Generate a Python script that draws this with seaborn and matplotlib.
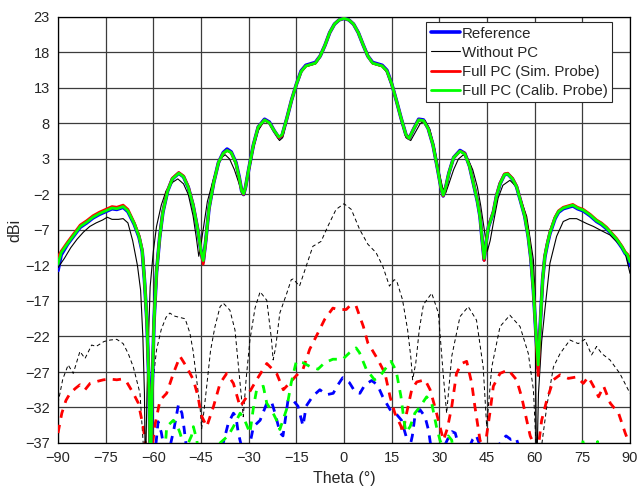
import matplotlib
matplotlib.use("Agg")
import matplotlib.pyplot as plt
import seaborn as sns
import pandas as pd
from matplotlib.lines import Line2D

# ---------------- data ----------------
theta_co = [-90, -89, -87, -85, -83, -81, -79, -77, -75, -73, -71.5, -69.5, -68, -66, -64.5,
            -63.5, -62.8, -62, -61.3, -60.9, -60.4, -59.8, -59, -58, -57, -55.5, -54, -52,
            -50.5, -49, -47.5, -46, -45, -44.3, -43.5, -42.5, -41, -39.5, -38, -36.8, -35.5,
            -34, -33, -32.2, -31.6, -31, -30, -28.5, -27, -25, -23.5, -22, -20.5, -19.5, -18,
            -16.5, -15, -13.5, -12, -10.5, -9, -7.5, -6, -4.5, -3, -1.5, 0,
            1.5, 3, 4.5, 6, 7.5, 9, 10.5, 12, 13.5, 15, 16.5, 18, 19.5, 20.5, 22, 23.5, 25,
            26.5, 28, 29.5, 30.5, 31.2, 32, 33, 34.5, 36.5, 38, 39.5, 40.7, 42, 42.8, 43.5,
            44.1, 44.8, 45.5, 47, 48, 49.1, 50.5, 51.5, 53, 54.3, 55.5, 56.9, 58, 58.8, 59.6,
            60.4, 61.1, 61.8, 62.5, 63.2, 64, 64.8, 66.4, 67.5, 69, 70.5, 72, 73.5, 75.3,
            77.5, 79.5, 81, 82.6, 84, 85.8, 87.5, 88.5, 89.2, 90]
ref_co = [-12.7, -10.5, -9.0, -7.8, -6.6, -6.0, -5.3, -4.8, -4.4, -4.0, -4.1, -3.8, -4.4, -6.2, -8.0,
          -10.0, -14.0, -20.0, -30.0, -42.0, -30.0, -20.0, -13.0, -8.0, -4.5, -1.5, 0.2, 1.0,
          0.5, -1.0, -3.5, -7.0, -10.0, -11.5, -8.5, -4.0, -0.3, 2.5, 3.9, 4.4, 4.0,
          2.5, 0.5, -1.5, -2.0, -1.0, 1.5, 5.0, 7.5, 8.6, 8.2, 7.0, 6.0, 6.3, 8.7,
          11.3, 13.5, 15.4, 16.2, 16.4, 16.6, 17.5, 19.0, 20.8, 22.0, 22.6, 22.8,
          22.6, 22.0, 20.8, 19.1, 17.5, 16.6, 16.4, 16.2, 15.5, 13.6, 11.2, 8.7, 6.4, 5.9, 7.3, 8.6, 8.5,
          7.3, 5.0, 1.5, -1.0, -2.2, -1.0, 1.0, 3.2, 4.2, 3.8, 2.0, -0.4, -3.0, -5.1, -8.5,
          -11.2, -8.5, -6.5, -4.5, -2.2, -0.5, 0.8, 0.9, 0.2, -0.9, -2.8, -5.1, -8.0, -11.0, -15.5,
          -21.6, -26.5, -20.0, -14.0, -10.8, -9.0, -7.5, -5.4, -4.5, -4.0, -3.8, -3.6, -4.0, -4.3,
          -5.0, -5.8, -6.2, -6.8, -7.5, -8.4, -9.5, -10.3, -10.6, -12.0]
sim_co = [-10.8, -10.0, -8.7, -7.5, -6.3, -5.7, -5.0, -4.5, -4.1, -3.7, -3.8, -3.5, -4.1, -6.0, -7.8,
          -9.8, -13.8, -20.0, -30.0, -42.0, -30.0, -20.0, -13.0, -8.0, -4.4, -1.4, 0.3, 1.1,
          0.6, -0.9, -3.4, -6.9, -10.0, -11.8, -8.5, -4.0, -0.3, 2.5, 3.8, 4.2, 3.9,
          2.4, 0.4, -1.5, -2.0, -1.0, 1.5, 5.0, 7.5, 8.5, 8.1, 7.0, 6.0, 6.3, 8.7,
          11.3, 13.5, 15.3, 16.1, 16.3, 16.5, 17.5, 19.0, 20.8, 22.0, 22.6, 22.8,
          22.6, 22.0, 20.8, 19.1, 17.5, 16.5, 16.3, 16.1, 15.4, 13.6, 11.2, 8.7, 6.4, 5.9, 7.3, 8.5, 8.4,
          7.3, 5.0, 1.5, -1.0, -2.2, -1.0, 1.0, 3.2, 4.1, 3.8, 2.0, -0.3, -2.9, -5.0, -8.5,
          -11.3, -8.5, -6.4, -4.4, -2.1, -0.4, 0.9, 1.0, 0.3, -0.8, -2.7, -5.0, -7.9, -11.0, -15.5,
          -21.6, -27.5, -20.0, -14.0, -10.6, -8.8, -7.3, -5.2, -4.3, -3.8, -3.6, -3.4, -3.8, -4.1,
          -4.8, -5.6, -6.0, -6.6, -7.3, -8.2, -9.3, -10.1, -10.4, -11.0]
cal_co = [-11.8, -10.2, -8.9, -7.7, -6.5, -5.9, -5.2, -4.7, -4.3, -3.9, -4.0, -3.7, -4.3, -6.1, -7.9,
          -9.9, -13.9, -20.0, -30.0, -42.0, -30.0, -20.0, -13.0, -8.0, -4.5, -1.5, 0.2, 1.0,
          0.5, -1.0, -3.5, -7.0, -10.0, -11.3, -8.5, -4.0, -0.3, 2.5, 3.8, 4.2, 3.9,
          2.4, 0.4, -1.5, -1.9, -1.0, 1.5, 5.0, 7.5, 8.5, 8.1, 7.0, 6.1, 6.4, 8.7,
          11.3, 13.5, 15.3, 16.1, 16.3, 16.5, 17.5, 19.0, 20.8, 22.0, 22.6, 22.8,
          22.6, 22.0, 20.8, 19.1, 17.5, 16.5, 16.3, 16.1, 15.4, 13.6, 11.2, 8.7, 6.4, 5.9, 7.3, 8.5, 8.4,
          7.3, 5.0, 1.5, -1.0, -2.1, -1.0, 1.0, 3.2, 4.1, 3.7, 2.0, -0.4, -3.0, -5.1, -8.5,
          -11.0, -8.5, -6.5, -4.5, -2.2, -0.5, 0.8, 0.9, 0.2, -0.9, -2.8, -5.1, -8.0, -11.0, -15.5,
          -21.6, -26.0, -20.0, -14.0, -10.7, -8.9, -7.4, -5.3, -4.4, -3.9, -3.7, -3.5, -3.9, -4.2,
          -4.9, -5.7, -6.1, -6.7, -7.4, -8.3, -9.4, -10.2, -10.5, -11.5]

theta_wo = [-90, -88, -86, -84, -82, -80, -78, -76, -74.5, -73, -71, -69.5, -68, -66.5, -65, -64,
            -63.3, -62.8, -62.5, -62, -61.5, -61, -60, -59, -57.5, -56, -54, -52.3, -50.5, -49,
            -47.5, -46.5, -45.7, -45, -44, -43, -41.5, -40, -38.5, -37.4, -36, -34.5, -33, -32,
            -31, -30, -28.5, -27, -25, -23.5, -22, -20.3, -19.3, -18, -16.5, -15, -13.5, -12,
            -10.5, -9, -7.5, -6, -4.5, -3, -1.5, 0, 1.5, 3, 4.5, 6, 7.5, 9, 10.5, 12, 13.5, 15,
            16.5, 18, 19.5, 21, 22.5, 24, 25.5, 27, 28.5, 30, 31, 32, 33, 34.5, 36, 37.6, 39,
            40.5, 42, 43, 44, 45.1, 46, 47, 48.5, 50, 52.2, 54, 55.5, 57.5, 58.5, 59.6, 60.1,
            60.6, 61.2, 62.2, 63.2, 64.8, 66.9, 69, 71, 73.2, 76.4, 78.5, 80.6, 83.7, 86.8,
            88.4, 90]
wo_co = [-12.3, -11.0, -9.5, -8.3, -7.3, -6.5, -6.0, -5.6, -5.2, -5.5, -5.5, -5.4, -6.0, -8.5, -12.0, -15.5,
         -22.0, -30.0, -42.0, -30.0, -22.0, -15.0, -10.0, -6.5, -3.5, -1.5, -0.3, 0.2, -0.5, -2.0,
         -5.0, -8.0, -10.7, -9.0, -6.0, -3.0, -0.5, 1.8, 3.2, 3.6, 3.0, 1.5, -0.5, -1.8,
         -1.2, 1.0, 4.5, 7.0, 8.4, 8.0, 6.8, 5.6, 6.0, 8.4, 11.0, 13.3, 15.2, 16.0,
         16.2, 16.4, 17.4, 19.0, 20.8, 22.0, 22.6, 22.8, 22.6, 22.0, 20.8, 19.0, 17.4, 16.4, 16.2, 16.0, 15.2, 13.3,
         11.0, 8.4, 6.0, 5.6, 6.8, 8.0, 8.4, 7.2, 4.5, 1.0, -1.0, -1.8, -0.5, 1.5, 3.0, 3.6, 3.0,
         1.5, -1.0, -3.5, -6.5, -10.0, -8.5, -6.0, -2.5, -0.7, 0.0, -0.8, -2.5, -5.1, -8.0, -11.2, -16.0,
         -42.0, -30.0, -22.7, -18.3, -11.7, -7.9, -5.8, -5.4, -5.4, -6.1, -6.5, -7.0, -7.7, -9.1,
         -10.1, -13.1]

theta_wo_x = [-90, -88.5, -86.8, -85.2, -83.1, -81.5, -79.4, -78, -75.5, -73.6, -71.5, -69.5, -67.9,
              -66.3, -64.2, -63.2, -62, -60.5, -59, -57.5, -56, -54.8, -53.5, -52.7, -50, -48.5,
              -47.5, -46.4, -45.3, -44.8, -44.2, -43.2, -42, -40.6, -39, -38, -35.9, -34.3, -32.7,
              -31.7, -30.8, -29.6, -28, -26.4, -24.3, -22.8, -22.3, -21.5, -20.2, -18, -16.6,
              -16, -14, -11.9, -9.8, -7.2, -5.1, -2.5, 0, 2.3, 4.9, 7.5, 10.1, 12.2, 14.3, 15.8,
              16.6, 18.4, 20, 21, 21.6, 22.6, 23.7, 25, 27.6, 29.7, 31.2, 32.3, 33.9, 36.5, 39.1,
              41.7, 43.8, 44.9, 46.5, 49.1, 52.2, 55.4, 58, 59.6, 60.4, 61.3, 62.3, 63.8, 65.9,
              68, 71.1, 73.7, 75.8, 77.9, 79.5, 81.1, 83.7, 86.8, 90]
wo_x = [-31.4, -28.0, -26.0, -27.2, -24.1, -25.1, -23.2, -23.4, -22.7, -22.5, -22.4, -23.0, -24.4,
        -26.3, -30.0, -37.0, -45.0, -30.0, -23.9, -21.0, -19.3, -18.7, -19.1, -19.2, -19.5, -21.5,
        -24.0, -28.0, -31.9, -35.0, -33.0, -29.0, -24.0, -20.6, -17.8, -17.3, -18.3, -21.1, -28.6,
        -33.3, -28.0, -22.5, -18.0, -15.7, -16.9, -22.5, -25.3, -23.5, -18.7, -15.9, -14.0,
        -13.9, -14.9, -12.1, -9.3, -8.6, -6.5, -4.1, -3.3, -4.1, -6.9, -9.0, -10.2, -12.1, -14.9, -14.0,
        -14.2, -16.8, -21.0, -24.8, -28.1, -25.7, -21.0, -17.5, -15.9, -18.7, -27.2, -32.8, -24.8, -19.2, -17.8,
        -19.7, -26.3, -34.7, -26.3, -20.6, -19.0, -20.6, -24.4, -29.5, -37.0, -42.0, -37.0, -31.9, -26.3,
        -24.4, -22.5, -23.0, -22.4, -24.6, -23.4, -24.4, -25.3, -27.2, -30.0]

theta_ref_x = [-90, -88.5, -87, -60, -58.5, -57.5, -56.5, -55, -53.5, -52.1, -51, -50.3, -49.5,
               -47, -40, -38, -36.4, -34.8, -34, -33.3, -32, -30, -28.5, -26.4, -24.3, -22.8,
               -21.7, -20.1, -19.2, -17.6, -16, -14.5, -12.9, -11.9, -9.8, -7.6, -5.5, -3.4, -1.9,
               -0.4, 1.7, 3.5, 5, 6.6, 8.7, 10.5, 12.2, 14.5, 16.6, 18.1, 19.5, 20.5, 21.5, 22.3,
               23.9, 25.5, 26.6, 27.5, 31, 32.8, 34, 35, 36.5, 39.5, 40.5, 41.6, 42.5, 44, 48,
               49.6, 51, 52.5, 54.2, 55, 56, 90]
ref_x = [-41, -37.0, -41, -41, -34.0, -35.5, -38, -38, -35.0, -31.6, -32.8, -35.0, -38,
         -41, -41, -37.0, -34.2, -32.8, -33.3, -35.5, -38, -38, -34.7, -33.8, -31.4, -31.2,
         -32.8, -35.6, -36.0, -30.9, -31.0, -31.8, -34.6, -31.8, -30.4, -29.5, -30.2, -30.0, -28.8,
         -27.8, -28.5, -29.8, -30.0, -28.8, -28.2, -28.8, -30.5, -32.3, -33.0, -33.8, -36.0, -38, -36.0, -33.3,
         -32.3, -33.3, -35.2, -38, -38, -36.3, -35.4, -35.6, -38, -37.5, -36.5, -35.9, -37.0, -38.5, -38,
         -36.6, -36.0, -36.5, -36.3, -37.5, -40, -41]

theta_sim_x = [-90, -88.8, -87.5, -86.2, -84.5, -83.1, -81.5, -79.9, -77.5, -75.7, -73.5, -71.5,
               -70, -68.4, -66.3, -64.7, -63.2, -62.5, -61.5, -60.5, -59.5, -57.9, -55.8, -53.7,
               -51.6, -49.5, -47.4, -45.9, -45, -43.2, -41.1, -39, -36.9, -34.8, -32.7, -30.6,
               -27.5, -24.3, -21.2, -19.1, -17, -15, -12.9, -10.8, -8.2, -6.1, -3.5, -1.9, 0.7, 2,
               3.8, 4.9, 6.1, 7.5, 8.2, 10.6, 12.9, 14.5, 16, 17.9, 18.5, 19.7, 21.3, 22.9, 25.5,
               27.1, 28.6, 30.2, 31.3, 32.5, 33.9, 35.4, 37, 38.6, 40.2, 41.2, 42.8, 44.2, 45.9,
               47, 49.1, 51.7, 54.3, 55.9, 57.5, 58.6, 60.5, 61.3, 62.2, 63.8, 65.9, 68, 70.6,
               73.2, 75.3, 76.9, 78.5, 80.1, 81.7, 83.8, 86.4, 88.5, 89.7, 90]
sim_x = [-35.6, -32.8, -31.0, -30.0, -29.3, -28.8, -29.5, -28.6, -28.3, -28.1, -28.0, -28.1,
         -28.0, -28.4, -30.0, -31.4, -34.7, -37.0, -39.0, -38.0, -34.5, -31.0, -30.0, -27.2,
         -24.8, -26.3, -28.1, -30.5, -33.0, -34.7, -31.9, -28.6, -27.2, -28.6, -31.9, -30.5,
         -28.1, -25.8, -27.2, -29.5, -28.5, -27.5, -26.6, -23.8, -21.5, -19.6, -18.0, -18.2, -18.2, -17.6,
         -17.7, -19.1, -20.6, -22.9, -23.4, -25.2, -27.2, -30.5, -32.8, -34.6, -35.6, -32.8, -29.5, -28.4, -28.1,
         -29.5, -31.9, -34.7, -36.6, -35.0, -31.9, -27.2, -25.8, -25.5, -28.6, -31.9, -36.6, -38.0, -32.8,
         -29.0, -27.2, -26.7, -28.1, -30.5, -33.8, -36.0, -38.0, -37.0, -33.8, -31.0, -28.1, -27.4, -27.9,
         -27.7, -28.6, -27.7, -29.0, -30.5, -29.0, -31.4, -32.8, -35.6, -37.0, -38.0]

theta_cal_x = [-90, -89, -88.3, -57, -56, -55.8, -53.7, -52.5, -51.6, -50, -48, -47.4, -46.3,
               -45.5, -40, -39, -36.5, -34.8, -32.7, -31.5, -29.6, -28.5, -27.5, -25.4, -24.3,
               -22.3, -21, -20.2, -18.1, -16.6, -15, -12.9, -10.8, -8.2, -6.1, -3.5, -0.4, 1.7,
               3.8, 4.9, 7, 9.6, 11.3, 13.4, 14.8, 16.4, 17.9, 19, 19.5, 20.8, 22.3, 23.9, 26,
               27.6, 29.1, 30.2, 31.5, 32.8, 33.9, 35, 74.5, 75.3, 76, 79, 79.8, 80.5, 90]
cal_x = [-41, -37.2, -41, -41, -36.0, -34.7, -33.8, -34.5, -35.6, -38.0, -36.0, -34.7, -36.6,
         -40, -40, -37.0, -36.0, -34.7, -32.8, -33.5, -35.6, -32.0, -29.5, -29.0, -31.4,
         -32.8, -34.0, -35.1, -32.3, -28.5, -25.5, -25.7, -26.2, -26.6, -25.7, -25.2, -25.2, -24.3,
         -23.6, -24.3, -26.6, -28.1, -27.6, -26.3, -25.5, -26.8, -30.4, -34.2, -35.5, -34.7, -32.8, -31.9, -30.5,
         -31.4, -34.7, -36.6, -38.0, -36.0, -36.6, -40, -40, -36.3, -40, -40, -36.8, -40, -40]

x_ticks = [-90, -75, -60, -45, -30, -15, 0, 15, 30, 45, 60, 75, 90]
y_ticks = [-37, -32, -27, -22, -17, -12, -7, -2, 3, 8, 13, 18, 23]
labels = ["Reference", "Without PC", "Full PC (Sim. Probe)", "Full PC (Calib. Probe)"]
colors = ["#0000ff", "#000000", "#ff0000", "#00ff00"]

# ---------------- plotting ----------------
sns.set_theme(style="white")
plt.rcParams['font.family'] = ['Liberation Sans', 'DejaVu Sans']

fig = plt.figure(figsize=(6.43, 4.94), dpi=100)
ax = fig.add_axes([58 / 643, 1 - 443 / 494, 572 / 643, 426 / 494])

def draw(th, vals, color, lw, ls, z):
    df = pd.DataFrame({"theta": th, "v": vals})
    sns.lineplot(data=df, x="theta", y="v", ax=ax, color=color, linewidth=lw,
                 linestyle=ls, sort=False, estimator=None, zorder=z)

dash_col = (0, (3.0, 2.6))
dash_blk = (0, (4.0, 3.0))
# cross-pol (dashed)
draw(theta_wo_x, wo_x, colors[1], 0.7, dash_blk, 3)
draw(theta_ref_x, ref_x, colors[0], 2.0, dash_col, 3)
draw(theta_sim_x, sim_x, colors[2], 2.0, dash_col, 3)
draw(theta_cal_x, cal_x, colors[3], 2.0, dash_col, 3)
# co-pol (solid)
draw(theta_co, ref_co, colors[0], 2.6, '-', 4)
draw(theta_wo, wo_co, colors[1], 0.8, '-', 4)
draw(theta_co, sim_co, colors[2], 2.0, '-', 4)
draw(theta_co, cal_co, colors[3], 2.0, '-', 4)

ax.set_xlim(-90, 90)
ax.set_ylim(-37, 23)
ax.set_xticks(x_ticks)
ax.set_yticks(y_ticks)
ax.grid(True, color="#3c3c3c", linewidth=0.9)
ax.set_axisbelow(True)
for s in ax.spines.values():
    s.set_color("black")
    s.set_linewidth(0.9)
ax.tick_params(axis='both', labelsize=10.5, length=0, pad=6, colors='#262626')
ax.set_xlabel("Theta (°)", fontsize=11.5, color='#262626', labelpad=4)
ax.set_ylabel("dBi", fontsize=11.5, color='#262626', labelpad=2)

handles = [Line2D([], [], color=colors[0], lw=2.6),
           Line2D([], [], color=colors[1], lw=0.8),
           Line2D([], [], color=colors[2], lw=2.0),
           Line2D([], [], color=colors[3], lw=2.0)]
leg = ax.legend(handles, labels, loc="upper right", bbox_to_anchor=(0.9685, 0.988),
                fontsize=10.8, frameon=True, fancybox=False, framealpha=1,
                edgecolor="#262626", borderpad=0.3, labelspacing=0.34,
                handlelength=1.95, handletextpad=0.12, borderaxespad=0.0)
leg.get_frame().set_linewidth(0.8)
leg.set_zorder(10)

fig.savefig("out.png", dpi=100)
